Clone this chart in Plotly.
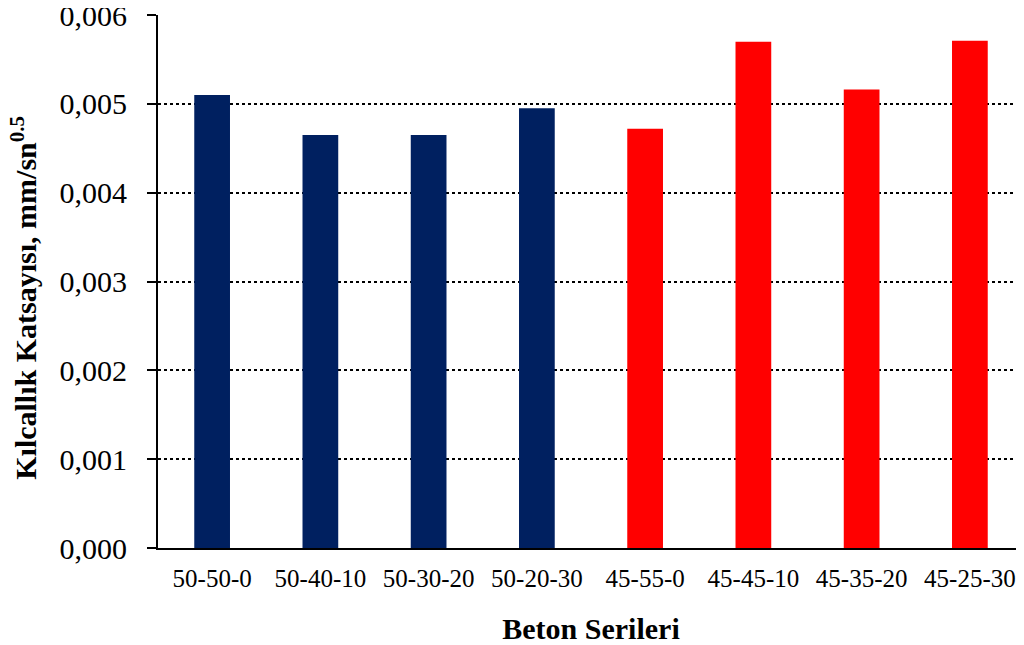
import plotly.graph_objects as go

categories = ["50-50-0", "50-40-10", "50-30-20", "50-20-30",
              "45-55-0", "45-45-10", "45-35-20", "45-25-30"]
values = [0.00510, 0.00465, 0.00465, 0.00495,
          0.00472, 0.00570, 0.00516, 0.00571]
bar_colors = ["#002060"] * 4 + ["#FF0000"] * 4
y_ticks = [0, 0.001, 0.002, 0.003, 0.004, 0.005, 0.006]

font_family = "Liberation Serif, Times New Roman, serif"

fig = go.Figure(go.Bar(x=categories, y=values, marker_color=bar_colors,
                       marker_line_width=0, width=0.33))

fig.update_layout(
    width=1016, height=637,
    margin=dict(l=150, r=0, t=7, b=97),
    plot_bgcolor="white", paper_bgcolor="white",
    separators=",.",
    showlegend=False,
    font=dict(family=font_family, color="black"),
)

fig.update_xaxes(
    automargin=False,
    showline=True, linecolor="black", linewidth=2,
    ticks="", showgrid=False,
    tickfont=dict(size=25, family=font_family, color="black"),
    ticklabelstandoff=7,
    ticklabeloverflow="allow",
    title=dict(text="<b>Beton Serileri</b>", font=dict(size=30, family=font_family, color="black"),
               standoff=33),
)

fig.update_yaxes(
    automargin=False,
    range=[0, 0.006], tickvals=y_ticks, tickformat=".3f",
    showline=True, linecolor="black", linewidth=2,
    ticks="outside", ticklen=9, tickwidth=2, tickcolor="black",
    showgrid=True, gridcolor="black", gridwidth=2, griddash="dot",
    zeroline=False,
    tickfont=dict(size=30, family=font_family, color="black"),
    ticklabelstandoff=14,
    ticklabeloverflow="allow",
)

fig.add_annotation(
    text="<b>Kılcallık Katsayısı, mm/sn<sup>0.5</sup></b>",
    xref="paper", yref="paper", x=-0.155, y=0.469,
    xanchor="center", yanchor="middle", textangle=-90, showarrow=False,
    font=dict(size=30, family=font_family, color="black"),
)

fig.write_html("out.html")
